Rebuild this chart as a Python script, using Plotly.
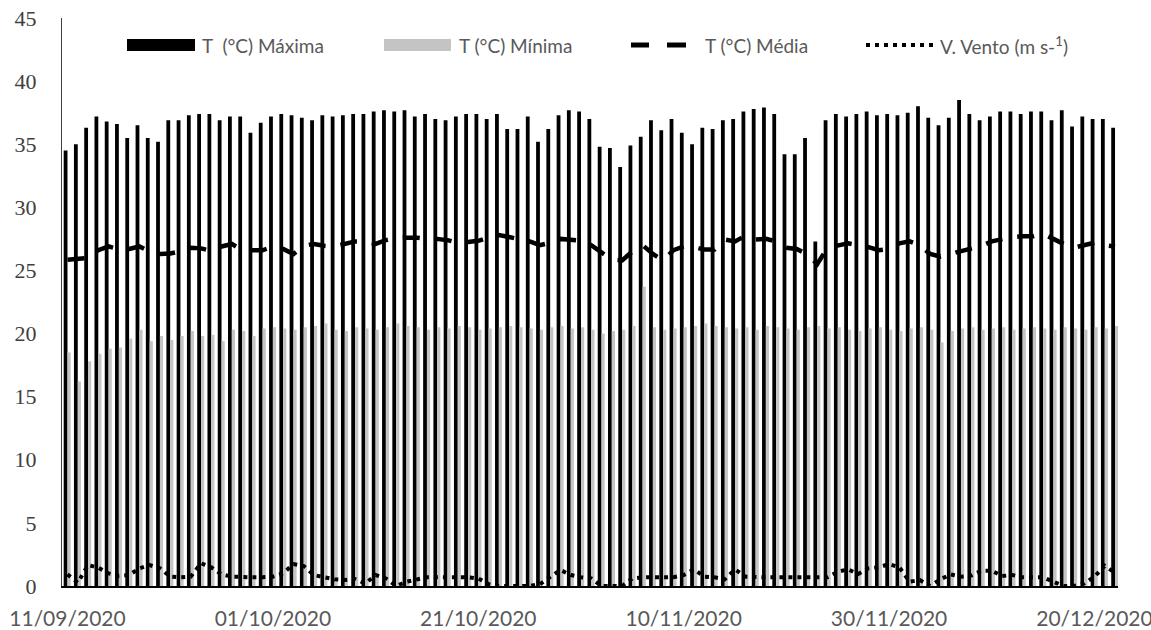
import pandas as pd
import plotly.graph_objects as go

start_date = "2020-09-11"
n_days = 103
dates = pd.date_range(start_date, periods=n_days)

t_max = [34.5, 35.0, 36.3, 37.2, 36.8, 36.6, 35.5, 36.5, 35.5, 35.2, 36.9, 36.9, 37.3, 37.4, 37.4,
         36.9, 37.2, 37.2, 35.9, 36.7, 37.2, 37.4, 37.3, 37.1, 36.9, 37.3, 37.2, 37.3, 37.4, 37.4,
         37.6, 37.7, 37.6, 37.7, 37.2, 37.4, 37.0,
         36.9, 37.2, 37.4, 37.4, 37.0, 37.4, 36.2, 36.2, 37.2, 35.2, 36.2, 37.3, 37.7, 37.6,
         37.0, 34.8, 34.7, 33.2, 34.9, 35.6, 36.9, 36.1, 37.0, 35.9, 35.0, 36.3, 36.2, 36.9,
         37.0, 37.6, 37.8, 37.9, 37.4, 34.2, 34.2, 35.5,
         27.3,
         36.9, 37.4, 37.2, 37.4, 37.6, 37.3, 37.4, 37.3, 37.5, 38.0, 37.1, 36.5, 37.1, 38.5,
         37.4, 36.9, 37.2, 37.6, 37.6, 37.4, 37.6, 37.6, 36.9, 37.7, 36.4, 37.2, 37.0, 37.0, 36.3]

t_min = [18.5, 16.2, 17.8, 18.4, 18.8, 18.9, 19.6, 20.3, 19.4, 19.8, 19.5, 19.8, 20.2, 19.8, 19.9,
         19.4, 20.3, 20.2, 19.8, 20.4, 20.5, 20.4, 20.3, 20.5, 20.6, 20.8, 20.3, 20.2, 20.5, 20.4,
         20.3, 20.5, 20.8, 20.6, 20.5, 20.3, 20.5, 20.4, 20.6, 20.5, 20.3, 20.4, 20.5, 20.6, 20.5,
         20.4, 20.3, 20.5, 20.6, 20.4, 20.5, 20.3, 20.0, 20.2, 20.3, 20.6, 23.7, 20.5, 20.3, 20.4,
         20.5, 20.6, 20.8, 20.6, 20.5, 20.4, 20.5, 20.3, 20.6, 20.5, 20.4, 20.3, 20.5, 20.6, 20.4,
         20.5, 20.3, 20.2, 20.4, 20.5, 20.3, 20.2, 20.4, 20.5, 20.3, 19.3, 20.2, 20.4, 20.5, 20.3,
         20.4, 20.5, 20.3, 20.4, 20.5, 20.4, 20.3, 20.5, 20.4, 20.3, 20.5, 20.4, 20.6]

t_mean = [25.85, 25.9, 26.0, 26.6, 26.9, 26.7, 26.7, 26.9, 26.5, 26.3, 26.35, 26.5, 26.8, 26.75, 26.55,
          26.9, 27.1, 26.6, 26.6, 26.6, 26.9, 26.7, 26.3, 26.95, 27.1, 26.95, 26.9, 27.1, 27.3, 27.3,
          27.1, 27.4, 27.55, 27.6, 27.6, 27.5, 27.5, 27.4, 27.2, 27.25, 27.35, 27.6, 27.8, 27.65, 27.5,
          27.3, 27.0, 27.2, 27.5, 27.45, 27.35, 27.0, 26.4, 25.85, 25.8, 26.5, 27.0, 26.3, 25.8, 26.6,
          26.9, 26.85, 26.65, 26.65, 27.45, 27.3, 27.75, 27.45, 27.5, 27.3, 26.8, 26.7, 26.3, 25.5, 26.8,
          27.0, 27.15, 27.0, 26.85, 26.6, 26.7, 27.15, 27.3, 27.0, 26.3, 26.1, 26.3, 26.55, 26.7, 26.95,
          27.3, 27.5, 27.65, 27.7, 27.7, 27.9, 27.5, 27.1, 26.8, 27.0, 27.2, 27.0, 26.9]

wind = [0.92, 0.26, 1.66, 1.45, 1.0, 0.8, 0.87, 1.4, 1.66, 1.4, 0.74, 0.69, 0.74, 1.8, 1.48,
        0.92, 0.74, 0.69, 0.69, 0.69, 0.74, 1.0, 1.74, 1.58, 0.87, 0.69, 0.53, 0.47, 0.55, 0.2,
        0.87, 0.6, 0.0, 0.34, 0.53, 0.69, 0.69, 0.69, 0.69, 0.69, 0.6, 0.15, 0.0, 0.0, 0.0,
        0.0, 0.15, 0.69, 1.27, 0.87, 0.69, 0.6, 0.0, 0.0, 0.0, 0.6, 0.69, 0.69, 0.69, 0.69,
        0.87, 1.32, 0.74, 0.69, 0.53, 1.32, 0.74, 0.69, 0.69, 0.69, 0.69, 0.69, 0.69, 0.69, 0.69,
        1.13, 1.32, 0.95, 1.4, 1.48, 1.74, 1.48, 0.34, 0.47, 0.0, 0.53, 0.92, 0.74, 0.82, 1.21,
        1.21, 0.79, 0.87, 0.69, 0.69, 0.69, 0.34, 0.0, 0.0, 0.2, 0.74, 1.6, 1.05]

tick_dates = ["2020-09-11", "2020-10-01", "2020-10-21", "2020-11-10", "2020-11-30", "2020-12-20"]
tick_text = ["11/09/2020", "01/10/2020", "21/10/2020", "10/11/2020", "30/11/2020", "20/12/2020"]
y_ticks = [0, 5, 10, 15, 20, 25, 30, 35, 40, 45]

label_max = "T\u00a0\u00a0(°C) Máxima"
label_min = "T (°C) Mínima"
label_mean = "T (°C) Média"
label_wind = "V. Vento (m s-<sup>1</sup>)"

DAY = 86400000.0

fig = go.Figure()
fig.add_trace(go.Bar(x=dates, y=t_max, name=label_max, marker=dict(color="#000000", line=dict(width=0)),
                     width=0.37 * DAY, offset=-0.37 * DAY, showlegend=False))
fig.add_trace(go.Bar(x=dates, y=t_min, name=label_min, marker=dict(color="#c4c4c4", line=dict(width=0)),
                     width=0.31 * DAY, offset=0.0, showlegend=False))
fig.add_trace(go.Scatter(x=dates, y=t_mean, name=label_mean, mode="lines",
                         line=dict(color="#000000", width=4.5, dash="17px,15px"), showlegend=False))
fig.add_trace(go.Scatter(x=dates, y=wind, name=label_wind, mode="lines",
                         line=dict(color="#000000", width=4, dash="4px,5px"), showlegend=False))

W, H = 1151, 630
L, R, T, B = 62, 1118, 18, 586


def px(x):
    return (x - L) / (R - L)


def py(y):
    return (B - y) / (B - T)


x0 = pd.Timestamp(start_date) - pd.Timedelta(hours=0.535 * 24)
x1 = pd.Timestamp(start_date) + pd.Timedelta(hours=102.29 * 24)

shapes = []
annotations = []
ly = 45
lfont = dict(family="Lato", size=19, color="#595959")
shapes.append(dict(type="rect", xref="paper", yref="paper", x0=px(127), x1=px(195), y0=py(51), y1=py(39),
                   fillcolor="#000000", line=dict(width=0)))
annotations.append(dict(xref="paper", yref="paper", x=px(200), y=py(ly), text=label_max, showarrow=False,
                        xanchor="left", yanchor="middle", font=lfont))
shapes.append(dict(type="rect", xref="paper", yref="paper", x0=px(384), x1=px(451), y0=py(51), y1=py(39),
                   fillcolor="#c4c4c4", line=dict(width=0)))
annotations.append(dict(xref="paper", yref="paper", x=px(457), y=py(ly), text=label_min, showarrow=False,
                        xanchor="left", yanchor="middle", font=lfont))
for a, b in [(631, 649), (667, 686)]:
    shapes.append(dict(type="line", xref="paper", yref="paper", x0=px(a), x1=px(b), y0=py(ly), y1=py(ly),
                       line=dict(color="#000000", width=5)))
annotations.append(dict(xref="paper", yref="paper", x=px(703), y=py(ly), text=label_mean, showarrow=False,
                        xanchor="left", yanchor="middle", font=lfont))
shapes.append(dict(type="line", xref="paper", yref="paper", x0=px(866), x1=px(934), y0=py(ly), y1=py(ly),
                   line=dict(color="#000000", width=4, dash="4px,5px")))
annotations.append(dict(xref="paper", yref="paper", x=px(938), y=py(ly), text=label_wind, showarrow=False,
                        xanchor="left", yanchor="middle", font=lfont))

fig.update_layout(
    width=W, height=H,
    margin=dict(l=L, r=W - R, t=T, b=H - B, pad=0, autoexpand=False),
    paper_bgcolor="white", plot_bgcolor="white",
    barmode="overlay",
    shapes=shapes, annotations=annotations,
    showlegend=False,
    xaxis=dict(type="date", range=[x0, x1], tickvals=tick_dates, ticktext=tick_text, automargin=False,
               ticklabeloverflow="allow",
               showgrid=False, zeroline=False, showline=True, linecolor="#000000", linewidth=1.5,
               ticks="", ticklabelstandoff=13, tickfont=dict(family="Lato", size=21, color="#595959")),
    yaxis=dict(range=[0, 45], tickvals=y_ticks, showgrid=False, zeroline=False, showline=True,
               automargin=False, ticklabeloverflow="allow",
               linecolor="#404040", linewidth=1, ticks="", ticklabelstandoff=20,
               tickfont=dict(family="Liberation Serif", size=22, color="#404040")),
)

fig.write_html("out.html", config={"displayModeBar": False},
               post_script="document.body.style.margin='0';document.body.style.overflow='hidden';")
